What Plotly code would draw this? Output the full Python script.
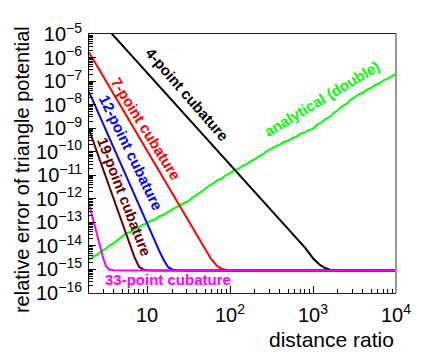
import plotly.graph_objects as go

FONT = "Arial, Liberation Sans, sans-serif"

# distance ratio samples and relative errors
ratio_4pt = [3, 10, 30, 100, 300, 600, 800, 1000, 1200, 1400, 1600, 2000, 3000, 10000]
err_4pt = [2.5e-5, 2.3e-7, 3.2e-9, 2.9e-11, 4.0e-13, 2.6e-14, 8.5e-15, 3.0e-15,
           1.6e-15, 1.15e-15, 9.8e-16, 9.1e-16, 9e-16, 9e-16]

ratio_7pt = [2, 3, 5, 10, 20, 30, 40, 50, 60, 70, 80, 90, 100, 150, 10000]
err_7pt = [1.66e-6, 1.45e-7, 6.8e-9, 1.07e-10, 1.66e-12, 1.45e-13, 2.7e-14, 7.5e-15,
           2.6e-15, 1.4e-15, 1.05e-15, 9.4e-16, 9.1e-16, 9e-16, 9e-16]

ratio_12pt = [2, 3, 4, 5, 7, 10, 12, 14, 16, 18, 20, 23, 30, 10000]
err_12pt = [3.5e-8, 1.35e-9, 1.35e-10, 2.3e-11, 1.55e-12, 8.9e-14, 2.1e-14, 6.3e-15,
            2.4e-15, 1.25e-15, 1.0e-15, 9.2e-16, 9e-16, 9e-16]

ratio_19pt = [2, 3, 4, 5, 6, 7, 8, 9, 10, 12, 10000]
err_19pt = [8.7e-10, 1.5e-11, 8.5e-13, 9.1e-14, 1.5e-14, 3.6e-15, 1.3e-15, 1.0e-15,
            9.2e-16, 9e-16, 9e-16]

ratio_33pt = [2, 2.2, 2.4, 2.6, 2.8, 3.0, 3.2, 3.5, 4, 5, 10000]
err_33pt = [6.2e-13, 1.65e-13, 4.8e-14, 1.55e-14, 6.0e-15, 2.6e-15, 1.4e-15, 1.0e-15,
            9.2e-16, 9e-16, 9e-16]

ratio_analytic = [
    2.0, 2.24, 2.51, 2.82, 3.16, 3.55, 3.98, 4.47, 5.01, 5.62, 6.31, 7.08, 7.94, 8.91,
    10, 11.2, 12.6, 14.1, 15.8, 17.8, 20.0, 22.4, 25.1, 28.2, 31.6, 35.5, 39.8, 44.7,
    50.1, 56.2, 63.1, 70.8, 79.4, 89.1, 100, 112, 126, 141, 158, 178, 200, 224, 251,
    282, 316, 355, 398, 447, 501, 562, 631, 708, 794, 891, 1000, 1122, 1259, 1413,
    1585, 1778, 1995, 2239, 2512, 2818, 3162, 3548, 3981, 4467, 5012, 5623, 6310,
    7079, 7943, 8913, 10000,
]
err_analytic = [
    2.5e-15, 3.5e-15, 4.2e-15, 5.9e-15, 7.4e-15, 1.07e-14, 1.32e-14, 1.86e-14, 2.4e-14,
    3.5e-14, 3.9e-14, 5.1e-14, 6.0e-14, 7.9e-14, 9.1e-14, 1.17e-13, 1.35e-13, 1.82e-13,
    2.1e-13, 2.7e-13, 3.2e-13, 4.4e-13, 5.1e-13, 6.8e-13, 7.9e-13, 1.17e-12, 1.45e-12,
    2.0e-12, 2.5e-12, 3.6e-12, 4.5e-12, 6.2e-12, 7.2e-12, 1.0e-11, 1.23e-11, 1.66e-11,
    1.86e-11, 2.5e-11, 2.95e-11, 4.0e-11, 4.8e-11, 6.5e-11, 7.9e-11, 1.12e-10, 1.35e-10,
    1.74e-10, 1.95e-10, 2.6e-10, 2.95e-10, 3.8e-10, 4.4e-10, 5.8e-10, 6.6e-10, 8.3e-10,
    9.5e-10, 1.41e-9, 1.74e-9, 2.45e-9, 3.0e-9, 4.4e-9, 5.8e-9, 8.5e-9, 1.05e-8,
    1.55e-8, 2.0e-8, 2.75e-8, 3.2e-8, 4.3e-8, 5.1e-8, 6.9e-8, 8.1e-8, 1.07e-7, 1.26e-7,
    1.70e-7, 2.1e-7,
]

x_tickvals = [10, 100, 1000, 10000]
x_ticktext = ["10", "10<sup>2</sup>", "10<sup>3</sup>", "10<sup>4</sup>"]
y_exponents = list(range(-16, -4))
y_tickvals = [10.0 ** e for e in y_exponents]
y_ticktext = [f"10<sup>\u2212{-e}</sup>" for e in y_exponents]

series = [
    (ratio_analytic, err_analytic, "#00ff00"),
    (ratio_4pt, err_4pt, "#000000"),
    (ratio_7pt, err_7pt, "#ff0000"),
    (ratio_12pt, err_12pt, "#0000ff"),
    (ratio_19pt, err_19pt, "#660000"),
    (ratio_33pt, err_33pt, "#ff00ff"),
]

fig = go.Figure()
for xs, ys, color in series:
    fig.add_trace(go.Scatter(x=xs, y=ys, mode="lines",
                             line=dict(color=color, width=2), showlegend=False))

labels = [
    ("4-point cubature", 0.320, 0.765, 49, "#000000"),
    ("7-point cubature", 0.185, 0.634, 58, "#ff0000"),
    ("12-point cubature", 0.137, 0.542, 64, "#0000ff"),
    ("19-point cubature", 0.114, 0.371, 69, "#660000"),
    ("33-point cubature", 0.257, 0.051, 0, "#ff00ff"),
    ("analytical (double)", 0.759, 0.751, -31, "#00ff00"),
]
for text, x, y, angle, color in labels:
    fig.add_annotation(text=f"<b>{text}</b>", x=x, y=y, xref="paper", yref="paper",
                       showarrow=False, textangle=angle, xanchor="center",
                       yanchor="middle", font=dict(family=FONT, size=15, color=color))

fig.add_annotation(text="relative error of triangle potential", x=-0.218, y=0.475,
                   xref="paper", yref="paper", showarrow=False, textangle=-90,
                   xanchor="center", yanchor="middle",
                   font=dict(family=FONT, size=20, color="black"))
fig.add_annotation(text="distance ratio", x=1.0, y=-0.18, xref="paper", yref="paper",
                   showarrow=False, xanchor="right", yanchor="middle",
                   font=dict(family=FONT, size=21, color="black"))

# grey right-hand frame edge
fig.add_shape(type="line", xref="paper", yref="paper", x0=1, x1=1, y0=0, y1=1,
              line=dict(color="#999999", width=2))

fig.update_xaxes(type="log", range=[0.301, 4], tickvals=x_tickvals, ticktext=x_ticktext,
                 ticks="inside", ticklen=7, tickcolor="black", showgrid=False,
                 zeroline=False, showline=True, linecolor="#222222", linewidth=1,
                 mirror=True, ticklabelstandoff=4,
                 tickfont=dict(family=FONT, size=20, color="black"),
                 minor=dict(ticks="inside", ticklen=4, tickcolor="black", dtick="D1",
                            showgrid=False))
fig.update_yaxes(type="log", range=[-16, -5], tickvals=y_tickvals, ticktext=y_ticktext,
                 ticks="inside", ticklen=7, tickcolor="black", showgrid=False,
                 zeroline=False, showline=True, linecolor="black", linewidth=1,
                 ticklabelstandoff=2,
                 tickfont=dict(family=FONT, size=20, color="black"),
                 minor=dict(ticks="inside", ticklen=4, tickcolor="black", dtick="D1",
                            showgrid=False))

# the page body adds an 8px margin, so the figure is sized to the remaining window
fig.update_layout(
    width=437,
    height=344,
    template="plotly_white",
    paper_bgcolor="white",
    plot_bgcolor="white",
    margin=dict(l=81, r=49, t=16, b=59),
    font=dict(family=FONT, color="black"),
)

fig.write_html("out.html")
